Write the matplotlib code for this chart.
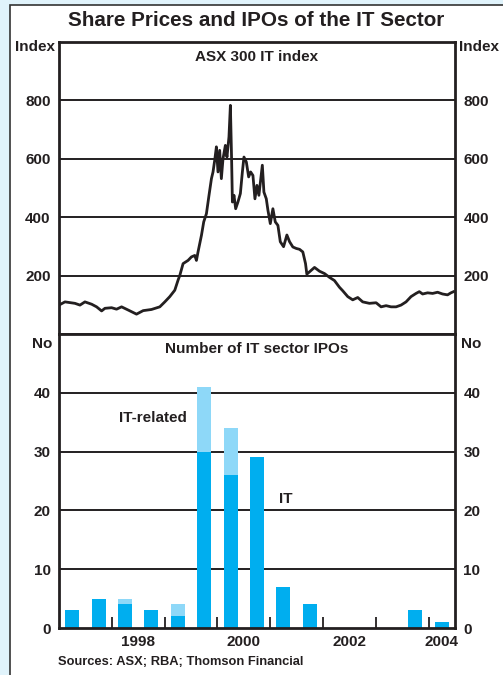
import matplotlib
matplotlib.use("Agg")
import matplotlib.pyplot as plt
from matplotlib.patches import Rectangle

plt.rcParams['font.family'] = ['Liberation Sans', 'DejaVu Sans']
plt.rcParams['font.weight'] = 'bold'

# ASX 300 IT index (decimal year, index level)
index_dates = [1997.000, 1997.113, 1997.302, 1997.397, 1997.491, 1997.618, 1997.712,
               1997.807, 1997.870, 1997.996, 1998.090, 1998.185, 1998.311, 1998.468,
               1998.594, 1998.752, 1998.909, 1999.004, 1999.098, 1999.193, 1999.256,
               1999.287, 1999.350, 1999.444, 1999.508, 1999.571, 1999.603, 1999.633,
               1999.698, 1999.741, 1999.792, 1999.841, 1999.887, 1999.917, 1999.949,
               1999.981, 2000.011, 2000.043, 2000.075, 2000.106, 2000.151, 2000.181,
               2000.219, 2000.246, 2000.270, 2000.284, 2000.314, 2000.346, 2000.389,
               2000.435, 2000.473, 2000.503, 2000.548, 2000.592, 2000.629, 2000.673,
               2000.711, 2000.749, 2000.786, 2000.851, 2000.881, 2000.926, 2000.957,
               2001.002, 2001.051, 2001.096, 2001.146, 2001.191, 2001.253, 2001.316,
               2001.367, 2001.429, 2001.493, 2001.556, 2001.618, 2001.669, 2001.694,
               2001.745, 2001.839, 2001.934, 2002.028, 2002.123, 2002.217, 2002.312,
               2002.374, 2002.469, 2002.563, 2002.658, 2002.752, 2002.879, 2003.006,
               2003.100, 2003.195, 2003.289, 2003.384, 2003.478, 2003.573, 2003.667,
               2003.762, 2003.824, 2003.887, 2003.981, 2004.076, 2004.170, 2004.265,
               2004.359, 2004.423, 2004.473]
index_values = [99, 110, 105, 99, 110, 102, 93,
                79, 88, 90, 85, 93, 82, 68,
                80, 84, 93, 110, 128, 150, 185,
                200, 241, 252, 264, 269, 252, 281,
                338, 384, 412, 475, 532, 555, 595,
                641, 555, 629, 532, 600, 646, 606,
                675, 783, 589, 452, 475, 429, 452,
                481, 555, 606, 589, 538, 555, 543,
                463, 509, 475, 578, 486, 463, 424,
                378, 429, 384, 372, 316, 299, 339,
                316, 298, 293, 290, 281, 241, 205,
                213, 228, 215, 207, 194, 183, 160,
                148, 128, 117, 125, 110, 105, 107,
                93, 97, 93, 93, 99, 110, 128,
                139, 145, 137, 141, 139, 143, 137,
                134, 141, 145]

# IPOs per half year
half_years = [1997.25, 1997.75, 1998.25, 1998.75, 1999.25, 1999.75, 2000.25, 2000.75,
              2001.25, 2001.75, 2002.25, 2002.75, 2003.25, 2003.75, 2004.25]
ipo_it = [3, 5, 4, 3, 2, 30, 26, 29, 7, 4, 0, 0, 0, 3, 1]
ipo_related = [0, 0, 1, 0, 2, 11, 8, 0, 0, 0, 0, 0, 0, 0, 0]

year_ticks = [1998, 1999, 2000, 2001, 2002, 2003, 2004]
year_label_pos = [1998.5, 2000.5, 2002.5, 2004.25]
year_labels = ['1998', '2000', '2002', '2004']

ink = '#231f20'

fig = plt.figure(figsize=(5.03, 6.75), dpi=100, facecolor='#e0f3fb')
fig.patches.append(Rectangle((10 / 503, -0.01), 1, 1.01 - 4.5 / 675, transform=fig.transFigure,
                             facecolor='white', edgecolor='#333333', lw=1.2, zorder=-10))

left, width = 59 / 503, 396 / 503
ax1 = fig.add_axes([left, 1 - 334 / 675, width, 292 / 675])
ax2 = fig.add_axes([left, 1 - 628 / 675, width, 294 / 675])

for ax in (ax1, ax2):
    ax.set_facecolor('white')
    for s in ax.spines.values():
        s.set_linewidth(2)
        s.set_color(ink)
    ax.set_xlim(1997, 2004.5)
    ax.tick_params(axis='y', length=0, labelsize=11, pad=6, labelright=True, colors=ink)

# top panel
ax1.plot(index_dates, index_values, color=ink, lw=2.0, zorder=3)
ax1.set_ylim(0, 1000)
ax1.set_yticks([200, 400, 600, 800])
for v in [200, 400, 600, 800]:
    ax1.axhline(v, color=ink, lw=1.4, zorder=1)
ax1.set_xticks([])
ax1.text(0.5, 0.95, 'ASX 300 IT index', transform=ax1.transAxes, ha='center',
         va='center', fontsize=11, color=ink)

# bottom panel
ax2.bar(half_years, ipo_it, width=0.265, color='#00aeef', zorder=2)
ax2.bar(half_years, ipo_related, width=0.265, bottom=ipo_it, color='#8ed8f8', zorder=2)
ax2.set_ylim(0, 50)
ax2.set_yticks([0, 10, 20, 30, 40])
for v in [10, 20, 30, 40]:
    ax2.axhline(v, color=ink, lw=1.4, zorder=1)
ax2.set_xticks(year_ticks, minor=True)
ax2.set_xticks(year_label_pos)
ax2.set_xticklabels(year_labels)
ax2.tick_params(axis='x', which='major', length=0, labelsize=11, pad=5, colors=ink)
ax2.tick_params(axis='x', which='minor', direction='in', length=8, width=1.3, color=ink)
ax2.text(0.5, 0.95, 'Number of IT sector IPOs', transform=ax2.transAxes, ha='center',
         va='center', fontsize=11, color=ink)
ax2.text(1998.78, 35.7, 'IT-related', ha='center', va='center', fontsize=11, color=ink)
ax2.text(2001.3, 22, 'IT', ha='center', va='center', fontsize=11, color=ink)

# figure labels
fig.text(0.51, 0.970, 'Share Prices and IPOs of the IT Sector', ha='center', va='center',
         fontsize=14.9, color=ink)
fig.text(55 / 503, 1 - 47 / 675, 'Index', ha='right', va='center', fontsize=11, color=ink)
fig.text(459 / 503, 1 - 47 / 675, 'Index', ha='left', va='center', fontsize=11, color=ink)
fig.text(52 / 503, 1 - 344 / 675, 'No', ha='right', va='center', fontsize=11, color=ink)
fig.text(461 / 503, 1 - 344 / 675, 'No', ha='left', va='center', fontsize=11, color=ink)
fig.text(58 / 503, 1 - 662 / 675, 'Sources: ASX; RBA; Thomson Financial', ha='left',
         va='center', fontsize=9.3, color=ink)

fig.savefig('out.png', dpi=100, facecolor=fig.get_facecolor())
